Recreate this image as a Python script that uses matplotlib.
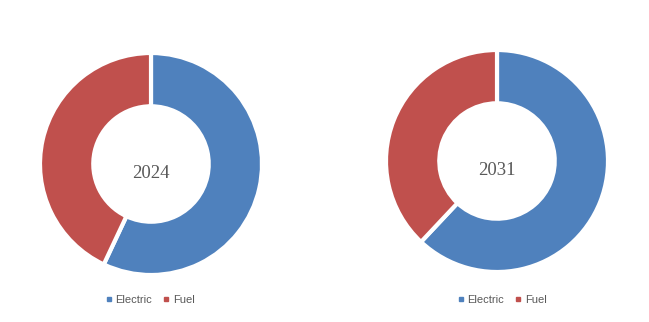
import matplotlib.pyplot as plt
from matplotlib.lines import Line2D
from matplotlib.legend import Legend

# shares (%)
labels = ['Electric', 'Fuel']
share_2024 = [57, 43]
share_2031 = [62, 38]
years = ['2024', '2031']
colors = ['#4F81BD', '#C0504D']

fig = plt.figure(figsize=(6.49, 3.22), dpi=100)
ax = fig.add_axes([0, 0, 1, 1])

# pixel-ish coordinates, y up
centers = [(151, 322 - 164), (497, 322 - 161)]
radius = 111

for vals, yr, c in zip([share_2024, share_2031], years, centers):
    ax.pie(vals, colors=colors, startangle=90, counterclock=False,
           center=c, radius=radius,
           wedgeprops=dict(width=radius * 0.48, edgecolor='white', linewidth=3))
    ax.text(c[0], c[1] - 9, yr, ha='center', va='center',
            family='Liberation Serif', fontsize=13.5, color='#595959')

ax.set_xlim(0, 649)
ax.set_ylim(0, 322)
ax.set_aspect('equal')
ax.axis('off')

handles = [Line2D([], [], marker='s', linestyle='none', markersize=3,
                  color=col) for col in colors]
for cx in [150, 502]:
    leg = Legend(ax, handles, labels, loc='center', ncol=2, frameon=False,
                 bbox_to_anchor=(cx / 649, 22 / 322),
                 prop={'family': 'Liberation Sans', 'size': 8},
                 handlelength=0.6, handletextpad=0.3, columnspacing=1.0,
                 labelcolor='#595959')
    ax.add_artist(leg)

fig.savefig('out.png', dpi=100)
